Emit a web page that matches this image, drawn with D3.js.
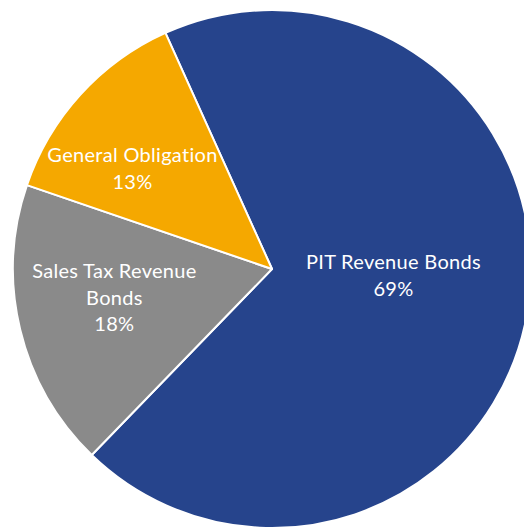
<!DOCTYPE html>
<html>
<head>
<meta charset="utf-8">
<script src="https://cdn.jsdelivr.net/npm/d3@7"></script>
<style>
  body { margin: 0; background: #fff; }
  svg { display: block; }
  .sliceLabel { fill: #fff; font-family: Lato, "Open Sans", sans-serif; font-size: 20px; letter-spacing: 0.3px; }
</style>
</head>
<body>
<div id="pie"></div>
<script>
// chart data
var categories = ["PIT Revenue Bonds", "Sales Tax Revenue Bonds", "General Obligation"];
var shares = [69, 18, 13];
var labelLines = [["PIT Revenue Bonds"], ["Sales Tax Revenue", "Bonds"], ["General Obligation"]];
var colors = ["#26448c", "#8a8a8a", "#f5a800"];

var width = 524, height = 529;
var cx = 272, cy = 269, radius = 259;

// where excel put each label: fraction of radius, and angle nudge (degrees)
var labelPlace = [{k: 0.47, da: -6}, {k: 0.62, da: 2.5}, {k: 0.66, da: -7}];

var svg = d3.select("#pie").append("svg")
    .attr("width", width)
    .attr("height", height);

var g = svg.append("g").attr("transform", "translate(" + cx + "," + cy + ")");

var rows = categories.map(function(c, i) {
    return {name: c, value: shares[i], lines: labelLines[i], color: colors[i]};
});

var startA = -24.3 * Math.PI / 180;
var pie = d3.pie()
    .sort(null)
    .value(function(d) { return d.value; })
    .startAngle(startA)
    .endAngle(startA + 2 * Math.PI);

var arcs = pie(rows);

var arc = d3.arc().innerRadius(0).outerRadius(radius);

g.selectAll("path.slice")
    .data(arcs)
    .enter().append("path")
    .attr("class", "slice")
    .attr("d", arc)
    .attr("fill", function(d) { return d.data.color; })
    .attr("stroke", "#fff")
    .attr("stroke-width", 2)
    .attr("stroke-linejoin", "round");

// labels: name lines then percent
var lineH = 26.7;
var labels = g.selectAll("text.sliceLabel")
    .data(arcs)
    .enter().append("text")
    .attr("class", "sliceLabel")
    .attr("text-anchor", "middle")
    .attr("transform", function(d, i) {
        var p = labelPlace[i];
        var a = (d.startAngle + d.endAngle) / 2 + p.da * Math.PI / 180;
        var r = p.k * radius;
        var n = d.data.lines.length + 1;
        var x = Math.sin(a) * r;
        var y = -Math.cos(a) * r - (n - 1) * lineH / 2 + 5;
        return "translate(" + x + "," + y + ")";
    });

labels.each(function(d) {
    var t = d3.select(this);
    var all = d.data.lines.concat([d.data.value + "%"]);
    all.forEach(function(s, j) {
        t.append("tspan")
            .attr("x", 0)
            .attr("dy", j === 0 ? 0 : lineH)
            .text(s);
    });
});
</script>
</body>
</html>
